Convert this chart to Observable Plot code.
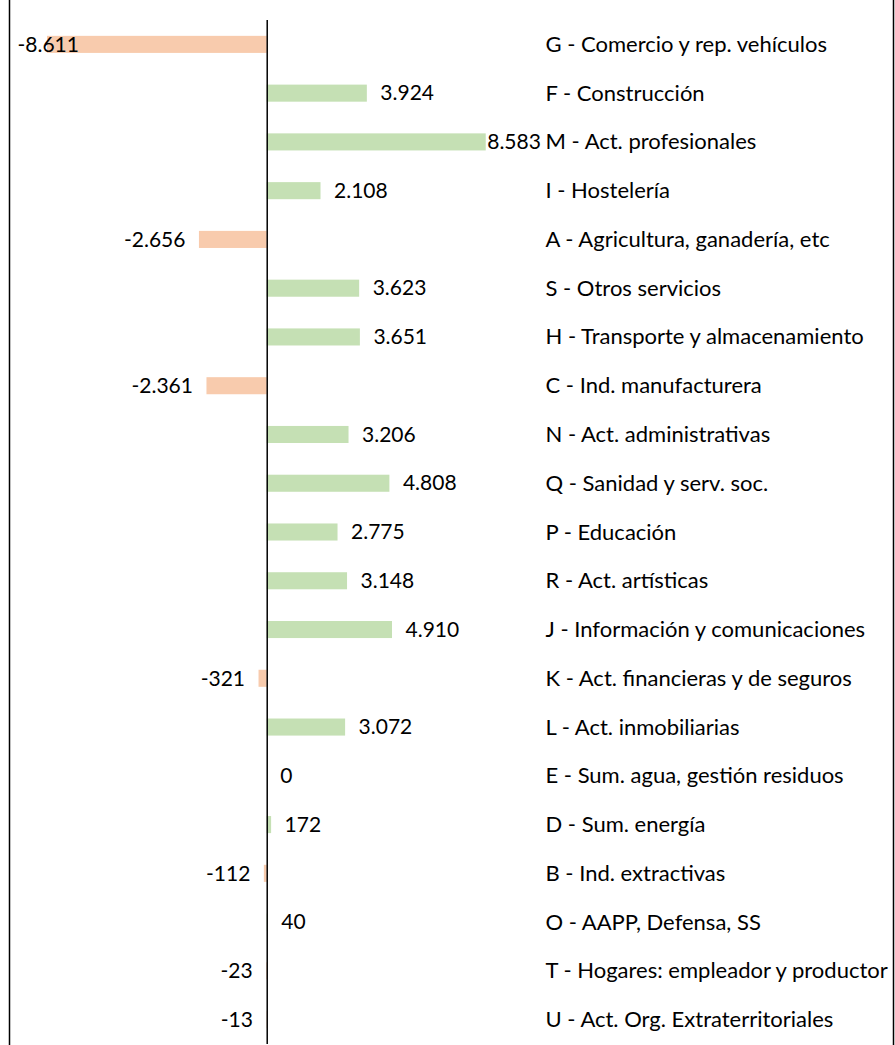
<!DOCTYPE html>
<html>
<head>
<meta charset="utf-8">
<script src="https://cdn.jsdelivr.net/npm/d3@7"></script>
<script src="https://cdn.jsdelivr.net/npm/@observablehq/plot@0.6"></script>
<style>
  html, body { margin: 0; padding: 0; background: #fff; }
  #chart svg { display: block; }
</style>
</head>
<body>
<div id="chart"></div>
<script>
const categories = [
  "G - Comercio y rep. vehículos",
  "F - Construcción",
  "M - Act. profesionales",
  "I - Hostelería",
  "A - Agricultura, ganadería, etc",
  "S - Otros servicios",
  "H - Transporte y almacenamiento",
  "C - Ind. manufacturera",
  "N - Act. administrativas",
  "Q - Sanidad y serv. soc.",
  "P - Educación",
  "R - Act. artísticas",
  "J - Información y comunicaciones",
  "K - Act. financieras y de seguros",
  "L - Act. inmobiliarias",
  "E - Sum. agua, gestión residuos",
  "D - Sum. energía",
  "B - Ind. extractivas",
  "O - AAPP, Defensa, SS",
  "T - Hogares: empleador y productor",
  "U - Act. Org. Extraterritoriales"
];
const values = [-8611, 3924, 8583, 2108, -2656, 3623, 3651, -2361, 3206, 4808, 2775, 3148, 4910, -321, 3072, 0, 172, -112, 40, -23, -13];

const data = categories.map((c, i) => ({cat: c, value: values[i]}));

const loc = d3.formatLocale({decimal: ",", thousands: ".", grouping: [3], currency: ["", " €"], minus: "-"});
const fmt = loc.format(",d");

const font = "Lato, 'Open Sans', sans-serif";
const fsVal = 21;
const fsCat = 22;
const BIG = 8000; // labels that don't fit outside the bar

const chart = Plot.plot({
  width: 895,
  height: 1045,
  marginTop: 20,
  marginBottom: 1,
  marginLeft: 9,
  marginRight: 2,
  style: {fontFamily: font, fontSize: fsVal + "px", color: "#000", background: "#fff", overflow: "visible"},
  x: {domain: [-10100, 10710], range: [9, 540], axis: null},
  y: {domain: categories, range: [20, 1044], paddingInner: 0.65, paddingOuter: 0.325, round: false, axis: null},
  marks: [
    Plot.frame({anchor: "left", insetTop: -20, stroke: "#000", strokeWidth: 1.5}),
    Plot.frame({anchor: "right", insetTop: -20, stroke: "#000", strokeWidth: 1.5}),
    Plot.barX(data, {
      x: "value", y: "cat",
      fill: d => d.value < 0 ? "#F8CBAD" : "#C5E0B4"
    }),
    Plot.ruleX([0], {stroke: "#000", strokeWidth: 1.5}),
    // positive / zero value labels outside bar end
    Plot.text(data.filter(d => d.value >= 0 && d.value < BIG), {
      x: "value", y: "cat", text: d => fmt(d.value),
      textAnchor: "start", dx: 13, fill: "#000", fontSize: fsVal
    }),
    // negative value labels outside bar end
    Plot.text(data.filter(d => d.value < 0 && d.value > -BIG), {
      x: "value", y: "cat", text: d => fmt(d.value),
      textAnchor: "end", dx: -14, fill: "#000", fontSize: fsVal
    }),
    // positive label that would overflow: placed right at bar end
    Plot.text(data.filter(d => d.value >= BIG), {
      x: "value", y: "cat", text: d => fmt(d.value),
      textAnchor: "start", dx: 1, fill: "#000", fontSize: fsVal
    }),
    // negative label that would overflow: placed at plot left edge
    Plot.text(data.filter(d => d.value <= -BIG), {
      y: "cat", frameAnchor: "left", text: d => fmt(d.value),
      textAnchor: "start", dx: 8, fill: "#000", fontSize: fsVal
    }),
    // category labels
    Plot.text(data, {
      y: "cat", frameAnchor: "left", text: "cat",
      textAnchor: "start", dx: 536, fill: "#000", fontSize: fsCat
    })
  ]
});

document.getElementById("chart").appendChild(chart);
</script>
</body>
</html>
